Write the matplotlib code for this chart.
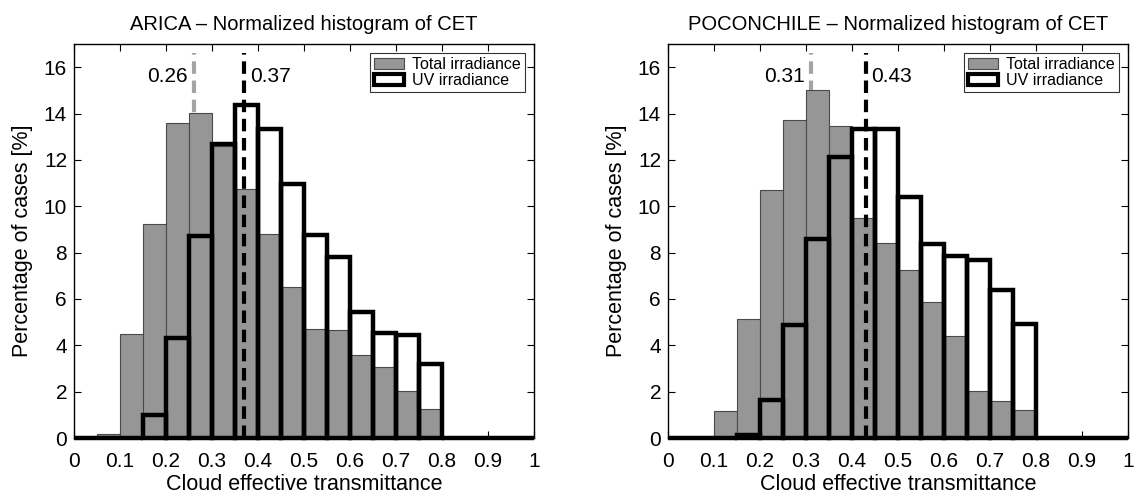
import numpy as np
import matplotlib
matplotlib.use("Agg")
import matplotlib.pyplot as plt
from matplotlib.patches import Patch

plt.rcParams['font.family'] = ['Liberation Sans', 'DejaVu Sans']

edges = np.round(np.arange(0, 1.0001, 0.05), 2)
bin_left = edges[:-1]

# ARICA
arica_total = [0, 0.17, 4.5, 9.24, 13.6, 14.04, 12.62, 10.75, 8.8, 6.5, 4.7, 4.66,
               3.57, 3.05, 2.01, 1.25, 0, 0, 0, 0]
arica_uv = [0, 0, 0, 1.0, 4.32, 8.73, 12.7, 14.37, 13.32, 10.96, 8.75, 7.8,
            5.42, 4.52, 4.45, 3.2, 0, 0, 0, 0]
arica_median_total = 0.26
arica_median_uv = 0.37

# POCONCHILE
pocon_total = [0, 0, 1.17, 5.14, 10.72, 13.7, 15.02, 13.48, 9.48, 8.42, 7.24, 5.87,
               4.42, 2.01, 1.58, 1.19, 0, 0, 0, 0]
pocon_uv = [0, 0, 0, 0.14, 1.65, 4.86, 8.6, 12.13, 13.34, 13.34, 10.39, 8.36,
            7.84, 7.67, 6.37, 4.94, 0, 0, 0, 0]
pocon_median_total = 0.31
pocon_median_uv = 0.43

stations = ["ARICA", "POCONCHILE"]
xticks = [0, 0.1, 0.2, 0.3, 0.4, 0.5, 0.6, 0.7, 0.8, 0.9, 1]
xticklabels = ["0", "0.1", "0.2", "0.3", "0.4", "0.5", "0.6", "0.7", "0.8", "0.9", "1"]
yticks = [0, 2, 4, 6, 8, 10, 12, 14, 16]

W, H = 1135, 497
fig = plt.figure(figsize=(W / 100, H / 100), dpi=100)

gray = '#969696'
axes_px = [(74, 44, 460, 394), (668, 44, 460, 394)]
datasets = [(arica_total, arica_uv, arica_median_total, arica_median_uv),
            (pocon_total, pocon_uv, pocon_median_total, pocon_median_uv)]

for (x0, y0, w, h), name, (tot, uv, mt, mu) in zip(axes_px, stations, datasets):
    ax = fig.add_axes([x0 / W, (H - y0 - h) / H, w / W, h / H])
    tot_a = np.array(tot)
    uv_a = np.array(uv)
    mask = tot_a > 0
    ax.plot([mt, mt], [0, 16.6], color='#a4a4a4', linestyle=(0, (3, 1.6)),
            linewidth=3, zorder=1)
    ax.bar(bin_left[mask], tot_a[mask], width=0.05, align='edge', color=gray,
           edgecolor='#4a4a4a', linewidth=0.8, zorder=2)
    ax.bar(bin_left, uv_a, width=0.05, align='edge', fill=False,
           edgecolor='black', linewidth=3.2, zorder=3, clip_on=False)
    ax.plot([mu, mu], [0, 16.6], color='black', linestyle=(0, (3, 1.6)),
            linewidth=3, zorder=4)
    ax.text(mt - 0.012, 15.6, f"{mt:.2f}", ha='right', va='center', fontsize=15)
    ax.text(mu + 0.012, 15.6, f"{mu:.2f}", ha='left', va='center', fontsize=15)

    ax.set_xlim(0, 1)
    ax.set_ylim(0, 17)
    ax.set_xticks(xticks)
    ax.set_xticklabels(xticklabels)
    ax.set_yticks(yticks)
    ax.tick_params(direction='in', top=True, right=True, labelsize=15,
                   length=5, width=0.8)
    ax.tick_params(axis='x', pad=10)
    ax.tick_params(axis='y', pad=5)
    for s in ax.spines.values():
        s.set_linewidth(1.0)
    ax.set_title(f"{name} – Normalized histogram of CET", fontsize=14.5, pad=10)
    ax.set_xlabel("Cloud effective transmittance", fontsize=15.5, labelpad=2)
    ax.set_ylabel("Percentage of cases [%]", fontsize=15.5, labelpad=8)

    handles = [Patch(facecolor=gray, edgecolor='#4a4a4a', linewidth=0.8),
               Patch(facecolor='white', edgecolor='black', linewidth=3)]
    leg = ax.legend(handles, ["Total irradiance", "UV irradiance"], loc='upper right',
                    fontsize=11.5, frameon=True, fancybox=False, borderpad=0.25,
                    handlelength=1.9, handleheight=0.7, handletextpad=0.5,
                    labelspacing=0.08, borderaxespad=0.55)
    leg.get_frame().set_edgecolor('black')
    leg.get_frame().set_linewidth(0.8)

fig.savefig("out.png", dpi=100)
